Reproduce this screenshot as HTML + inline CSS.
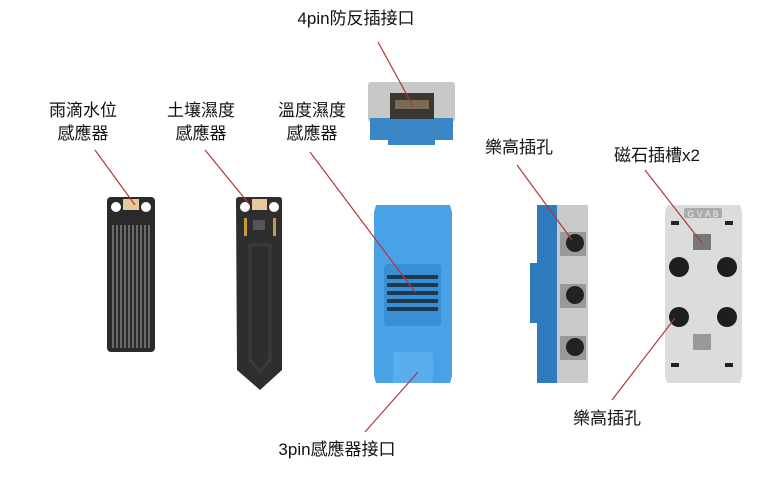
<!DOCTYPE html>
<html><head><meta charset="utf-8"><style>
body{margin:0;background:#fff}
svg{display:block}
text{font-family:"Liberation Sans","Noto Sans CJK TC",sans-serif;font-size:17px;fill:#111;text-anchor:middle}
</style></head><body>
<svg width="758" height="497" viewBox="0 0 758 497">
<!-- labels -->
<text x="356" y="24">4pin防反插接口</text>
<text x="83" y="116">雨滴水位</text><text x="83" y="139">感應器</text>
<text x="201" y="116">土壤濕度</text><text x="201" y="139">感應器</text>
<text x="312" y="116">溫度濕度</text><text x="312" y="139">感應器</text>
<text x="519" y="153">樂高插孔</text>
<text x="657" y="161">磁石插槽x2</text>
<text x="607" y="424">樂高插孔</text>
<text x="337" y="455">3pin感應器接口</text>

<!-- water sensor -->
<rect x="107" y="197" width="48" height="155" rx="4" fill="#2a2a2a"/>
<circle cx="116" cy="207" r="5" fill="#fff"/><circle cx="146" cy="207" r="5" fill="#fff"/>
<rect x="123" y="199" width="16" height="11" fill="#e8c89a"/>
<g stroke="#aaa" stroke-width="1">
<line x1="113" y1="225" x2="113" y2="348"/><line x1="117" y1="225" x2="117" y2="348"/><line x1="121" y1="225" x2="121" y2="348"/><line x1="125" y1="225" x2="125" y2="348"/><line x1="129" y1="225" x2="129" y2="348"/><line x1="133" y1="225" x2="133" y2="348"/><line x1="137" y1="225" x2="137" y2="348"/><line x1="141" y1="225" x2="141" y2="348"/><line x1="145" y1="225" x2="145" y2="348"/><line x1="149" y1="225" x2="149" y2="348"/>
</g>
<!-- soil sensor -->
<path d="M236 200 Q236 197 239 197 L279 197 Q282 197 282 200 L282 370 L260 390 L237 370 Z" fill="#2e2e2e"/>
<circle cx="245" cy="207" r="5" fill="#fff"/><circle cx="274" cy="207" r="5" fill="#fff"/>
<rect x="252" y="199" width="15" height="11" fill="#e8c89a"/>
<rect x="253" y="220" width="12" height="10" fill="#555"/>
<rect x="244" y="218" width="3" height="18" fill="#c89a40"/><rect x="273" y="218" width="3" height="18" fill="#c89a40"/>
<path d="M250 245 L270 245 L270 360 L260 372 L250 360 Z" fill="none" stroke="#3a3a3a" stroke-width="3"/>
<!-- 4pin top -->
<rect x="368" y="82" width="87" height="40" rx="3" fill="#c8c8c8"/>
<rect x="370" y="118" width="83" height="22" fill="#3b86c6"/>
<rect x="388" y="131" width="47" height="14" fill="#3b86c6"/>
<rect x="390" y="93" width="44" height="26" fill="#3a3630"/>
<rect x="395" y="100" width="34" height="9" fill="#7a6a55"/>
<!-- temp module -->
<path d="M376 205 L450 205 L452 212 L452 376 L450 383 L376 383 L374 376 L374 212 Z" fill="#49a2e6"/>
<rect x="384" y="264" width="57" height="62" rx="4" fill="#3a8ed4"/>
<g fill="#1e3a50">
<rect x="387" y="275" width="51" height="4"/><rect x="387" y="283" width="51" height="4"/><rect x="387" y="291" width="51" height="4"/><rect x="387" y="299" width="51" height="4"/><rect x="387" y="307" width="51" height="4"/>
</g>
<rect x="393" y="352" width="40" height="31" rx="2" fill="#5aaeee"/>
<!-- lego side -->
<rect x="537" y="205" width="51" height="178" fill="#c9c9c9"/>
<rect x="537" y="205" width="20" height="178" fill="#2e7bc0"/>
<rect x="530" y="263" width="8" height="60" fill="#2e7bc0"/>
<rect x="560" y="232" width="26" height="24" fill="#999"/><circle cx="575" cy="243" r="9" fill="#222"/>
<rect x="560" y="284" width="26" height="24" fill="#999"/><circle cx="575" cy="295" r="9" fill="#222"/>
<rect x="560" y="336" width="26" height="24" fill="#999"/><circle cx="575" cy="347" r="9" fill="#222"/>
<!-- magnet plate -->
<path d="M667 205 L740 205 L742 212 L742 376 L740 383 L667 383 L665 376 L665 212 Z" fill="#dcdcdc"/>
<rect x="684" y="208" width="38" height="10" rx="2" fill="#aaa"/>
<text x="703" y="217" style="font-size:9px;fill:#eee">G V A B</text>
<rect x="693" y="234" width="18" height="16" fill="#777"/>
<rect x="693" y="334" width="18" height="16" fill="#999"/>
<circle cx="679" cy="267" r="10" fill="#1e1e1e"/><circle cx="727" cy="267" r="10" fill="#1e1e1e"/>
<circle cx="679" cy="317" r="10" fill="#1e1e1e"/><circle cx="727" cy="317" r="10" fill="#1e1e1e"/>
<rect x="671" y="221" width="8" height="4" fill="#222"/><rect x="725" y="221" width="8" height="4" fill="#222"/>
<rect x="671" y="363" width="8" height="4" fill="#222"/><rect x="725" y="363" width="8" height="4" fill="#222"/>
<!-- leader lines -->
<g stroke="#b03838" stroke-width="1.2">
<line x1="378" y1="42" x2="413" y2="106"/>
<line x1="95" y1="150" x2="135" y2="205"/>
<line x1="205" y1="150" x2="250" y2="205"/>
<line x1="310" y1="152" x2="415" y2="292"/>
<line x1="517" y1="165" x2="572" y2="240"/>
<line x1="645" y1="170" x2="702" y2="243"/>
<line x1="612" y1="400" x2="675" y2="318"/>
<line x1="365" y1="432" x2="418" y2="372"/>
</g>
</svg>
</body></html>
